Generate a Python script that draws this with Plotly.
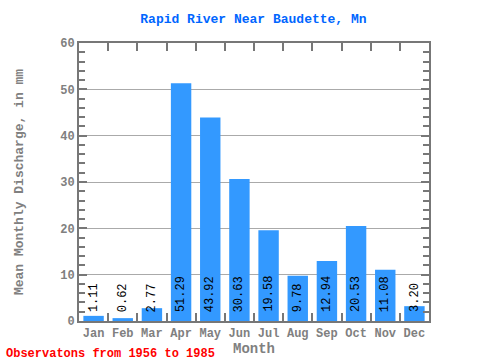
import plotly.graph_objects as go

months = ["Jan", "Feb", "Mar", "Apr", "May", "Jun", "Jul", "Aug", "Sep", "Oct", "Nov", "Dec"]
discharge = [1.11, 0.62, 2.77, 51.29, 43.92, 30.63, 19.58, 9.78, 12.94, 20.53, 11.08, 3.20]
labels = ["%.2f" % v for v in discharge]

GRAY = "#808080"
MONO = "Liberation Mono"

fig = go.Figure()
fig.add_trace(go.Bar(x=months, y=discharge, marker=dict(color="#3399ff", line=dict(width=0)),
                     width=0.7, hoverinfo="skip"))

for m, lab in zip(months, labels):
    fig.add_annotation(x=m, y=0, text=lab, textangle=-90, showarrow=False,
                       yanchor="bottom", xanchor="center", yshift=7,
                       font=dict(family=MONO, size=12, color="black"))

fig.add_annotation(x=0, xref="paper", xanchor="left", xshift=-75, y=0, yref="paper",
                   yanchor="top", yshift=-24, showarrow=False,
                   text="Observatons from 1956 to 1985",
                   font=dict(family=MONO, size=12, color="red", weight="bold"))

fig.update_layout(
    width=480, height=360,
    margin=dict(l=79, r=51, t=43, b=39, autoexpand=False),
    paper_bgcolor="white", plot_bgcolor="white",
    showlegend=False,
    title=dict(text="Rapid River Near Baudette, Mn", x=0.528, xanchor="center", y=0.95, yanchor="middle",
               font=dict(family=MONO, size=13, color="#0066ff", weight="bold")),
    xaxis=dict(showline=True, linecolor="#777777", linewidth=2, mirror="ticks", automargin=False,
               ticks="inside", tickson="boundaries", ticklen=8, tickcolor="#777777", tickwidth=2,
               tickangle=0,
               tickfont=dict(family=MONO, size=12, color=GRAY, weight="bold"),
               title=dict(text="Month", standoff=2, font=dict(family=MONO, size=14, color=GRAY, weight="bold")),
               showgrid=False),
    yaxis=dict(range=[0, 60], dtick=10, showline=True, linecolor="#777777", linewidth=2, mirror="ticks",
               automargin=False,
               ticks="inside", ticklen=8, tickcolor="#777777", tickwidth=2,
               minor=dict(dtick=2, ticks="inside", ticklen=6, tickcolor="#777777", tickwidth=2),
               showgrid=True, gridcolor="#aaaaaa", gridwidth=1, zeroline=False,
               tickfont=dict(family=MONO, size=12, color=GRAY, weight="bold"),
               title=dict(text="Mean Monthly Discharge, in mm", standoff=34,
                          font=dict(family=MONO, size=13, color=GRAY, weight="bold"))),
)

fig.write_html("out.html", config={"displayModeBar": False},
               post_script="document.body.style.margin='0';")
